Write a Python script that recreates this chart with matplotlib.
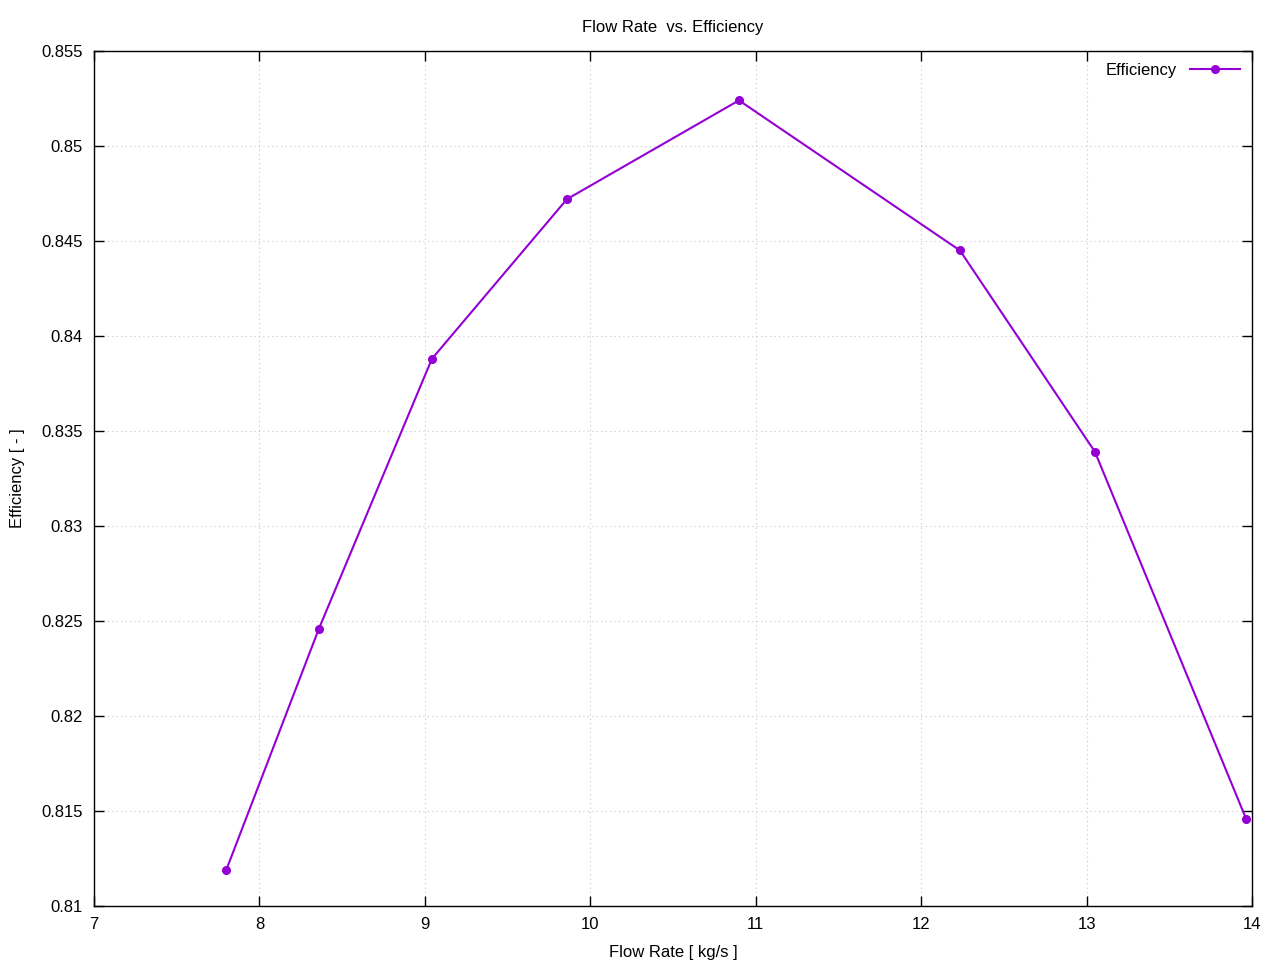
import matplotlib
matplotlib.use("Agg")
import matplotlib.pyplot as plt

# data
flow_rate = [7.80, 8.36, 9.043, 9.859, 10.899, 12.235, 13.051, 13.964]
efficiency = [0.8119, 0.8246, 0.8388, 0.8472, 0.8524, 0.8445, 0.8339, 0.8146]
xticks = [7, 8, 9, 10, 11, 12, 13, 14]
yticks = [0.81, 0.815, 0.82, 0.825, 0.83, 0.835, 0.84, 0.845, 0.85, 0.855]

plt.rcParams["font.family"] = ["Liberation Sans", "DejaVu Sans"]
plt.rcParams["font.size"] = 12

fig = plt.figure(figsize=(12.8, 9.6), dpi=100)
ax = fig.add_axes([0.0734, 0.05625, 0.9047, 0.89065])

ax.plot(flow_rate, efficiency, color="#9400D3", lw=1.5, marker="o", ms=5.5,
        label="Efficiency")

ax.set_xlim(7, 14)
ax.set_ylim(0.81, 0.855)
ax.set_xticks(xticks)
ax.set_xticklabels([str(t) for t in xticks])
ax.set_yticks(yticks)
ax.set_yticklabels(["%g" % t for t in yticks])
ax.tick_params(direction="in", top=True, right=True, length=7, width=1, pad=8)
ax.grid(True, color="#c8c8c8", ls=(0, (1, 3)), lw=0.8)
for s in ax.spines.values():
    s.set_linewidth(1)

ax.set_title("Flow Rate  vs. Efficiency", fontsize=12, pad=14)
ax.set_xlabel("Flow Rate [ kg/s ]", labelpad=9)
ax.set_ylabel("Efficiency [ - ]", labelpad=12)

ax.legend(loc="upper right", frameon=False, markerfirst=False, handlelength=3,
          borderaxespad=0.3)

fig.savefig("out.png", dpi=100)
